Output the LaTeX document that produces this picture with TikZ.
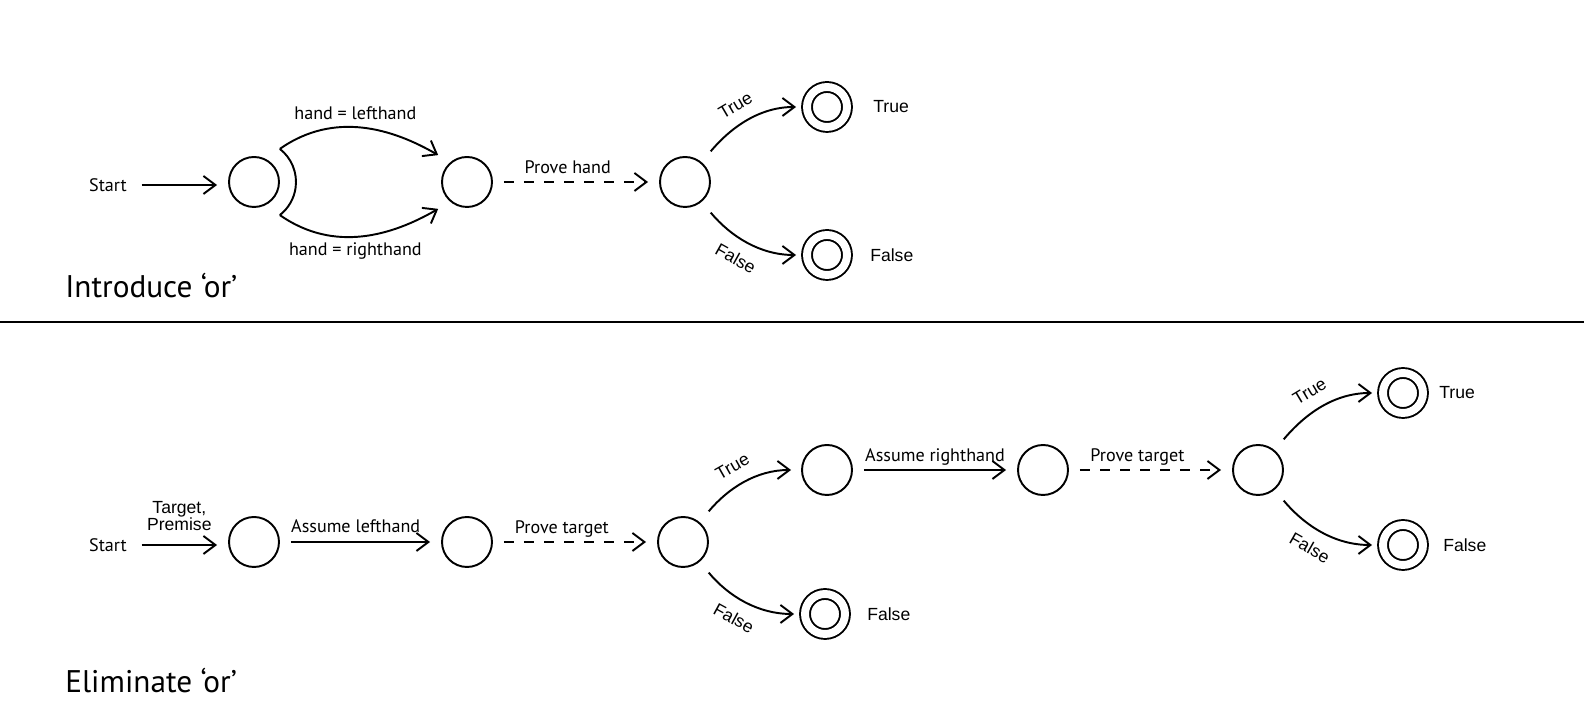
\documentclass[tikz,border=0pt]{standalone}
\usepackage{fontspec}
\setmainfont{PT Sans}
\newfontfamily\arialfont{Liberation Sans}
\usetikzlibrary{arrows.meta,positioning}

\begin{document}
\begin{tikzpicture}[
  snode/.style={circle, draw, line width=1.1pt, minimum size=1cm, inner sep=0pt},
  fnode/.style={circle, draw, line width=1.1pt, minimum size=0.8cm, inner sep=0pt, double, double distance=4.5pt},
  trans/.style={line width=1.1pt, -{Straight Barb[length=2.4mm,width=3.6mm]}, shorten <=0.22cm, shorten >=0.22cm},
  prove/.style={trans, dash pattern=on 5.7pt off 5.7pt},
  branch/.style={trans, shorten <=0.28cm, shorten >=0.2cm},
  lbl/.style={font=\fontsize{10.3}{12}\selectfont, inner sep=2pt},
  albl/.style={font=\arialfont\fontsize{10}{10}\selectfont, inner sep=0pt},
  heading/.style={font=\fontsize{17.8}{20}\selectfont, anchor=base west, inner sep=0pt},
  x=0.02cm, y=0.02cm  % pixel grid of the 1586x722 sheet, y pre-flipped
]
\useasboundingbox (0,0) rectangle (1586,722);

% ============ Introduce 'or' (upper half) ============
\node[lbl] (startA) at (108,537) {Start};
\node[snode] (a1) at (254,540) {};
\node[snode] (a2) at (467,540) {};
\node[snode] (a3) at (685,540) {};
\node[fnode] (aT) at (827,615) {};
\node[fnode] (aF) at (827,467) {};
\node[albl, right=0.5cm of aT] (aTl) {True};
\node[albl, right=0.44cm of aF] (aFl) {False};

\draw[trans] (startA) -- (startA -| a1.west);

% bracket joining the two hand choices
\coordinate (ht) at ([shift={(52:0.84cm)}]a1.center);
\coordinate (hb) at ([shift={(-52:0.84cm)}]a1.center);
\draw[line width=1.1pt] (ht) arc[start angle=52, end angle=-52, radius=0.84cm];

\draw[trans, shorten <=0pt, shorten >=0.28cm] (ht) to[out=35, in=150]
  node[lbl, above=2pt, pos=0.45] {hand = lefthand} (a2.130);
\draw[trans, shorten <=0pt, shorten >=0.28cm] (hb) to[out=-35, in=-150]
  node[lbl, below=1pt, pos=0.45] {hand = righthand} (a2.230);

\draw[prove] (a2) -- node[lbl, above=2pt, pos=0.45] {Prove hand} (a3);

\draw[branch] (a3) to[out=50, in=180] node[albl, sloped, above=7.5pt, pos=0.48] {True} (aT);
\draw[branch] (a3) to[out=-50, in=180] node[albl, sloped, below=7.5pt, pos=0.48] {False} (aF);

\node[heading] (introT) at (65,424) {Introduce ‘or’};

% ---------- divider ----------
\draw[line width=1.1pt] (0,400) -- (1584,400);

% ============ Eliminate 'or' (lower half) ============
\node[lbl] (startB) at (108,177) {Start};
\node[snode] (b1) at (254,180) {};
\node[snode] (b2) at (467,180) {};
\node[snode] (b3) at (683,180) {};
\node[snode] (b4) at (827,252) {};
\node[snode] (b5) at (1043,252) {};
\node[snode] (b6) at (1258,252) {};
\node[fnode] (bF1) at (825,108) {};
\node[fnode] (bT) at (1403,329) {};
\node[fnode] (bF2) at (1403,177) {};
\node[albl, right=0.42cm of bF1] (bF1l) {False};
\node[albl, right=0.3cm of bT] (bTl) {True};
\node[albl, right=0.38cm of bF2] (bF2l) {False};

\draw[trans] (startB) -- node[albl, above=7.5pt, align=center] {Target,\\Premise} (startB -| b1.west);
\draw[trans] (b1) -- node[lbl, above=3pt, pos=0.47] {Assume lefthand} (b2);
\draw[prove] (b2) -- node[lbl, above, pos=0.42] {Prove target} (b3);

\draw[branch] (b3) to[out=50, in=180] node[albl, sloped, above=7.5pt, pos=0.48] {True} (b4);
\draw[branch] (b3) to[out=-50, in=180] node[albl, sloped, below=7.5pt, pos=0.48] {False} (bF1);

\draw[trans] (b4) -- node[lbl, above, pos=0.5] {Assume righthand} (b5);
\draw[prove] (b5) -- node[lbl, above, pos=0.42] {Prove target} (b6);

\draw[branch] (b6) to[out=50, in=180] node[albl, sloped, above=7.5pt, pos=0.48] {True} (bT);
\draw[branch] (b6) to[out=-50, in=180] node[albl, sloped, below=7.5pt, pos=0.48] {False} (bF2);

\node[heading] (elimT) at (65,29) {Eliminate ‘or’};

\end{tikzpicture}
\end{document}
